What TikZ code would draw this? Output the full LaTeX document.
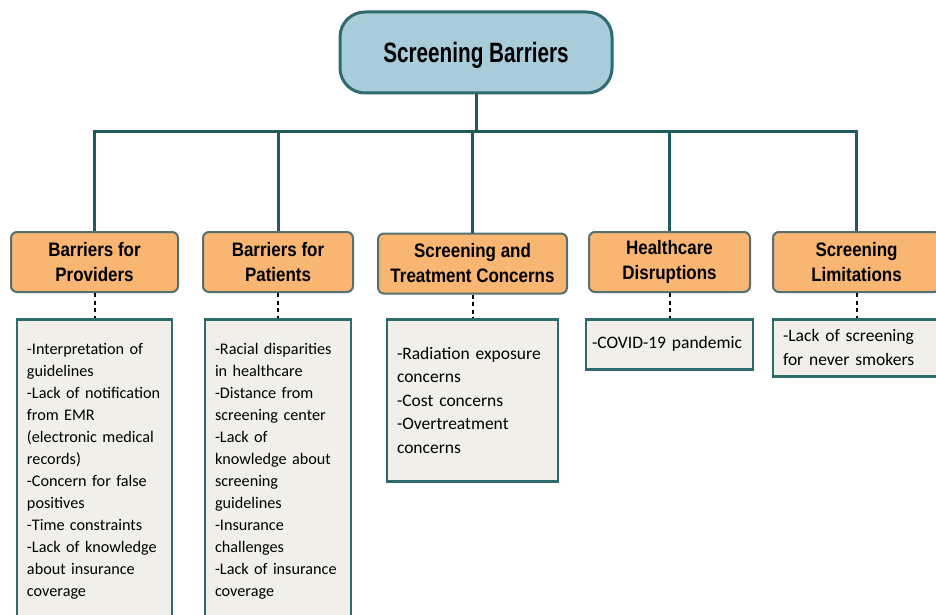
\documentclass[tikz,border=0pt]{standalone}
\usepackage{fontspec}
\setmainfont{Carlito}
\newfontfamily\titlefont[FakeStretch=0.74]{Liberation Sans}
\newfontfamily\catfont[FakeStretch=0.87]{Liberation Sans}
\usepackage{tikz}
\usetikzlibrary{positioning}

\definecolor{rootfill}{HTML}{A9CCDB}
\definecolor{rootline}{HTML}{2E6A6E}
\definecolor{trunkline}{HTML}{1F5A5C}
\definecolor{catfill}{HTML}{F8B672}
\definecolor{catline}{HTML}{55706F}
\definecolor{listfill}{HTML}{F1EFE9}
\definecolor{listline}{HTML}{2F6A6C}

\begin{document}
\begin{tikzpicture}[x=1pt,y=-1pt,align=center,
		rootbox/.style={draw=rootline,fill=rootfill,line width=3pt,rounded corners=25pt,minimum width=272pt,minimum height=81pt,text depth=0pt,font=\titlefont\bfseries\fontsize{28}{32}\selectfont},
		catbox/.style={draw=catline,fill=catfill,line width=2pt,rounded corners=6pt,minimum height=60pt,inner sep=2pt,font=\catfont\bfseries\fontsize{19.5}{25}\selectfont},
		listbox/.style={draw=listline,fill=listfill,line width=2.5pt,anchor=north,align=left,inner xsep=10pt,font=\fontsize{16.2}{22}\selectfont},
		biglist/.style={listbox,font=\fontsize{17.5}{23.6}\selectfont},
		trunk/.style={draw=trunkline,line width=3pt},
		dotlink/.style={draw=black,line width=2pt,dash pattern=on 4pt off 3.5pt}]
	\useasboundingbox (0,0) rectangle (936,615);
	% root and categories
	\node[rootbox] (root) at (476,52.5) {Screening Barriers};
	\node[catbox,minimum width=167pt] (prov) at (94.5,262) {Barriers for\\Providers};
	\node[catbox,minimum width=150pt] (pat) at (278,262) {Barriers for\\Patients};
	\node[catbox,minimum width=189pt] (treat) at (472.5,263.5) {Screening and\\Treatment Concerns};
	\node[catbox,minimum width=161pt] (disr) at (669.5,262) {Healthcare\\Disruptions};
	\node[catbox,minimum width=167pt] (lim) at (856.5,262) {Screening\\Limitations};
	% lists
	\node[listbox,text width=135pt,minimum height=305pt] (provlist) at (94.5,318) {-Interpretation of\\guidelines\\-Lack of notification\\from EMR\\(electronic medical\\records)\\-Concern for false\\positives\\-Time constraints\\-Lack of knowledge\\about insurance\\coverage};
	\node[listbox,text width=126pt,minimum height=305pt] (patlist) at (278,318) {-Racial disparities\\in healthcare\\-Distance from\\screening center\\-Lack of\\knowledge about\\screening\\guidelines\\-Insurance\\challenges\\-Lack of insurance\\coverage};
	\node[biglist,text width=151pt,minimum height=162pt] (treatlist) at (472.5,318) {-Radiation exposure\\concerns\\-Cost concerns\\-Overtreatment\\concerns};
	\node[biglist,text width=155pt,inner xsep=6pt,minimum height=50pt] (disrlist) at (669.5,318) {\mbox{-COVID-19 pandemic}};
	\node[biglist,text width=147pt,minimum height=57pt] (limlist) at (856.5,318) {-Lack of screening\\for never smokers};
	% connectors
	\coordinate (bus) at (476,131);
	\draw[trunk] (root.south) -- (bus);
	\foreach \c in {prov,pat,treat,disr,lim}
		\draw[trunk] (bus) -| (\c.north);
	\path[dotlink]
		(prov.south) edge (provlist.north)
		(pat.south) edge (patlist.north)
		(treat.south) edge (treatlist.north)
		(disr.south) edge (disrlist.north)
		(lim.south) edge (limlist.north);
\end{tikzpicture}
\end{document}
